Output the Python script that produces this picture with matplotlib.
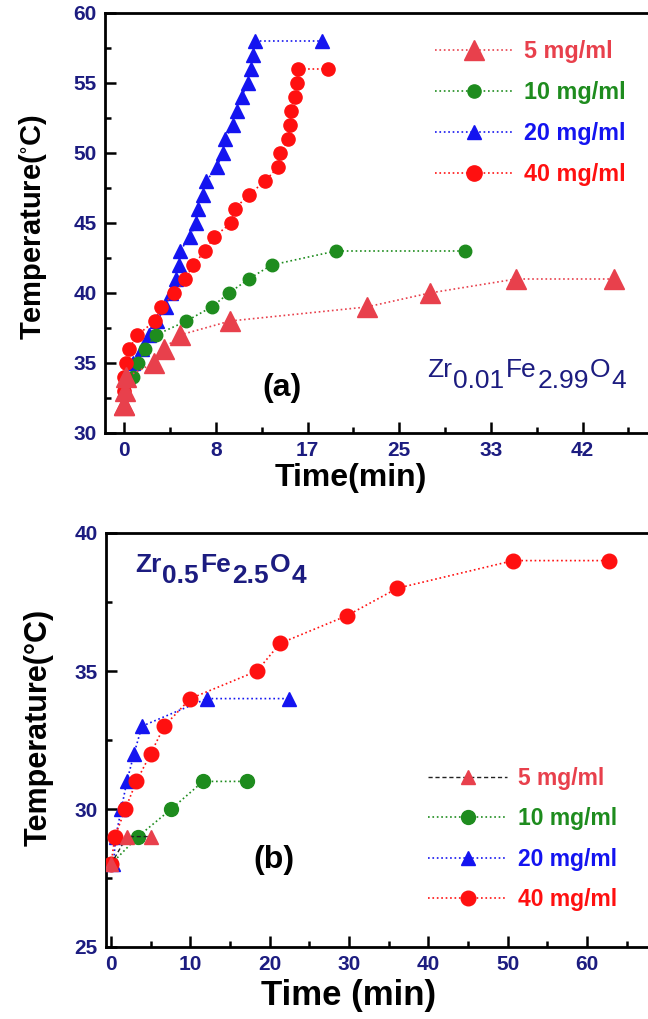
import matplotlib
matplotlib.use("Agg")
import matplotlib.pyplot as plt
from matplotlib.lines import Line2D

plt.rcParams["font.family"] = ["Liberation Sans", "DejaVu Sans"]

# ---------------- panel (a): Zr0.01Fe2.99O4 ----------------
a_t_5 = [0, 0, 0.1, 0.2, 2.7, 3.6, 5.1, 9.7, 22.2, 28.0, 35.9, 44.9]
a_T_5 = [32, 32, 33, 34, 35, 36, 37, 38, 39, 40, 41, 41]

a_t_10 = [0.8, 1.3, 1.9, 2.9, 5.7, 8.0, 9.6, 11.4, 13.5, 19.4, 31.2]
a_T_10 = [34, 35, 36, 37, 38, 39, 40, 41, 42, 43, 43]

a_t_20 = [0, 0, 0.2, 0.8, 1.6, 2.3, 3.0, 3.8, 4.3, 4.7, 5.0, 5.1, 6.0, 6.6,
          6.8, 7.2, 7.5, 8.5, 9.0, 9.2, 10.0, 10.3, 10.75, 11.3, 11.6, 11.8,
          12.0, 18.1]
a_T_20 = [32, 33, 34, 35, 36, 37, 38, 39, 40, 41, 42, 43, 44, 45, 46, 47, 48,
          49, 50, 51, 52, 53, 54, 55, 56, 57, 58, 58]

a_t_40 = [0, 0, 0.2, 0.4, 1.2, 2.8, 3.4, 4.6, 5.6, 6.3, 7.4, 8.2, 9.8, 10.1,
          11.4, 12.9, 14.1, 14.3, 15.0, 15.2, 15.3, 15.6, 15.8, 15.9, 18.7]
a_T_40 = [33, 34, 35, 36, 37, 38, 39, 40, 41, 42, 43, 44, 45, 46, 47, 48, 49,
          50, 51, 52, 53, 54, 55, 56, 56]

a_xticks = [0, 8.4, 16.8, 25.2, 33.6, 42.0]
a_xticklabels = ["0", "8", "17", "25", "33", "42"]
a_yticks = [30, 35, 40, 45, 50, 55, 60]

# ---------------- panel (b): Zr0.5Fe2.5O4 ----------------
b_t_5 = [0, 2.0, 5.1]
b_T_5 = [28, 29, 29]

b_t_10 = [0, 3.4, 7.6, 11.6, 17.1]
b_T_10 = [28, 29, 30, 31, 31]

b_t_20 = [0.3, 0.6, 1.3, 2.0, 2.9, 3.9, 12.1, 22.4]
b_T_20 = [28, 29, 30, 31, 32, 33, 34, 34]

b_t_40 = [0, 0.5, 1.8, 3.2, 5.0, 6.7, 10.0, 18.4, 21.3, 29.7, 36.1, 50.7, 62.7]
b_T_40 = [28, 29, 30, 31, 32, 33, 34, 35, 36, 37, 38, 39, 39]

b_xticks = [0, 10, 20, 30, 40, 50, 60]
b_yticks = [25, 30, 35, 40]

labels = ["5 mg/ml", "10 mg/ml", "20 mg/ml", "40 mg/ml"]

C5 = "#e8404c"
C10 = "#1e8c1e"
C20 = "#1414f0"
C40 = "#ff1010"
NAVY = "#1c1c80"

W, H = 648.0, 1019.0
fig = plt.figure(figsize=(W / 100, H / 100), dpi=100)


def px_axes(left, top, right, bottom):
    return fig.add_axes([left / W, 1 - bottom / H, (right - left) / W, (bottom - top) / H])


def style_axes(ax):
    for side in ("left", "bottom", "top", "right"):
        ax.spines[side].set_linewidth(2.0)
        ax.spines[side].set_color("black")
    ax.tick_params(which="both", direction="in", top=False, right=False,
                   labelsize=15, labelcolor=NAVY, width=1.8, pad=6)
    ax.tick_params(which="major", length=8)
    ax.tick_params(which="minor", length=4)
    for lab in ax.get_xticklabels() + ax.get_yticklabels():
        lab.set_fontweight("bold")


def sub_formula(ax, x, y, parts, size, weight, color):
    """Write a chemical formula; parts alternate element / subscript."""
    t = ax.text(x, y, parts[0], transform=ax.transAxes, fontsize=size,
                fontweight=weight, color=color, ha="left", va="baseline")
    for i, p in enumerate(parts[1:], start=1):
        dy = -0.42 * size if i % 2 == 1 else 0.42 * size
        t = ax.annotate(p, xy=(1, 0), xycoords=t, xytext=(0.8, dy),
                        textcoords="offset points", fontsize=size,
                        fontweight=weight, color=color, ha="left", va="bottom")


def legend_block(ax, handles, top_px, left_px, size, spacing, hlen):
    leg = ax.legend(handles, labels, loc="upper left",
                    bbox_to_anchor=(left_px / W, 1 - top_px / H),
                    bbox_transform=fig.transFigure, frameon=False,
                    handlelength=hlen, handletextpad=0.47,
                    labelspacing=spacing, borderpad=0, borderaxespad=0,
                    prop={"size": size, "weight": "bold"})
    for txt, c in zip(leg.get_texts(), [C5, C10, C20, C40]):
        txt.set_color(c)
    return leg


# ---------------- draw panel (a) ----------------
axA = px_axes(105, 13, 672, 433)
axA.plot(a_t_20, a_T_20, ls=":", lw=1.2, color=C20, marker="^", ms=10,
         mec=C20, mfc=C20, zorder=3)
axA.plot(a_t_10, a_T_10, ls=":", lw=1.2, color=C10, marker="o", ms=9,
         mec=C10, mfc=C10, zorder=3)
axA.plot(a_t_40, a_T_40, ls=":", lw=1.2, color=C40, marker="o", ms=9.5,
         mec=C40, mfc=C40, zorder=4)
axA.plot(a_t_5, a_T_5, ls=":", lw=1.2, color=C5, marker="^", ms=15,
         mec=C5, mfc=C5, zorder=5)
axA.set_xlim(-1.77, 50.2)
axA.set_ylim(30, 60)
axA.set_xticks(a_xticks)
axA.set_xticklabels(a_xticklabels)
axA.set_xticks([4.2, 12.6, 21.0, 29.4, 37.8, 46.2], minor=True)
axA.set_yticks(a_yticks)
axA.set_yticks([32.5, 37.5, 42.5, 47.5, 52.5, 57.5], minor=True)
style_axes(axA)
axA.set_xlabel("Time(min)", fontsize=23, fontweight="bold")
axA.xaxis.set_label_coords(0.434, -0.072)
axA.set_ylabel(r"Temperature($\mathregular{^{\circ}}$C)", fontsize=21,
               fontweight="bold")
axA.yaxis.set_label_coords(-0.099, 0.49)

hA = [
    Line2D([], [], ls=":", lw=1.2, color=C5, marker="^", ms=15, mfc=C5, mec=C5),
    Line2D([], [], ls=":", lw=1.2, color=C10, marker="o", ms=9.5, mfc=C10, mec=C10),
    Line2D([], [], ls=":", lw=1.2, color=C20, marker="^", ms=10.5, mfc=C20, mec=C20),
    Line2D([], [], ls=":", lw=1.2, color=C40, marker="o", ms=11, mfc=C40, mec=C40),
]
legend_block(axA, hA, 40, 435, 16.8, 0.77, 3.35)

axA.text(0.313, 0.108, "(a)", transform=axA.transAxes, fontsize=23,
         fontweight="bold", color="black", ha="center", va="center")
sub_formula(axA, 0.568, 0.133, ["Zr", "0.01", "Fe", "2.99", "O", "4"], 19,
            "normal", NAVY)

# ---------------- draw panel (b) ----------------
axB = px_axes(106, 533, 672, 947)
axB.plot(b_t_20, b_T_20, ls=":", lw=1.2, color=C20, marker="^", ms=10,
         mec=C20, mfc=C20, zorder=3)
axB.plot(b_t_10, b_T_10, ls=":", lw=1.2, color=C10, marker="o", ms=10,
         mec=C10, mfc=C10, zorder=3)
axB.plot(b_t_40, b_T_40, ls=":", lw=1.2, color=C40, marker="o", ms=10.5,
         mec=C40, mfc=C40, zorder=4)
axB.plot(b_t_5, b_T_5, ls=(0, (3, 2)), lw=1.0, color="#222222", marker="^", ms=10,
         mec=C5, mfc=C5, zorder=5)
axB.set_xlim(-0.63, 70.7)
axB.set_ylim(25, 40)
axB.set_xticks(b_xticks)
axB.set_xticks([5, 15, 25, 35, 45, 55, 65], minor=True)
axB.set_yticks(b_yticks)
axB.set_yticks([27.5, 32.5, 37.5], minor=True)
style_axes(axB)
axB.set_xlabel("Time (min)", fontsize=25, fontweight="bold")
axB.xaxis.set_label_coords(0.428, -0.078)
axB.set_ylabel("Temperature(°C)", fontsize=22, fontweight="bold")
axB.yaxis.set_label_coords(-0.092, 0.53)

hB = [
    Line2D([], [], ls=(0, (3, 2)), lw=1.0, color="#222222", marker="^", ms=10, mfc=C5, mec=C5),
    Line2D([], [], ls=":", lw=1.2, color=C10, marker="o", ms=10, mfc=C10, mec=C10),
    Line2D([], [], ls=":", lw=1.2, color=C20, marker="^", ms=10, mfc=C20, mec=C20),
    Line2D([], [], ls=":", lw=1.2, color=C40, marker="o", ms=10.5, mfc=C40, mec=C40),
]
legend_block(axB, hB, 767, 428, 16.5, 0.755, 3.45)

axB.text(0.297, 0.21, "(b)", transform=axB.transAxes, fontsize=23,
         fontweight="bold", color="black", ha="center", va="center")
sub_formula(axB, 0.051, 0.906, ["Zr", "0.5", "Fe", "2.5", "O", "4"], 19,
            "bold", NAVY)

fig.savefig("out.png", dpi=100)
